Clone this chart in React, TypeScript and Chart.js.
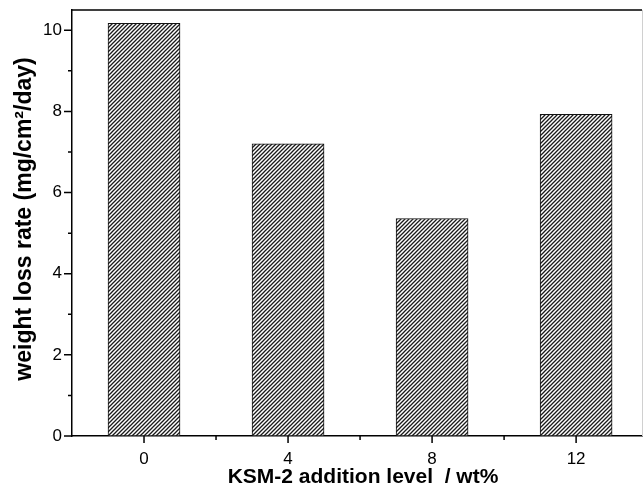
import React, { useEffect, useRef } from "react";
import { Chart, registerables } from "chart.js";

Chart.register(...registerables);

// ---- data ----
const categories = [0, 4, 8, 12];
const weightLossRate = [10.17, 7.2, 5.36, 7.93];
const yMajorTicks = [0, 2, 4, 6, 8, 10];
const yMinorTicks = [1, 3, 5, 7, 9];
const xMajorTicks = [0, 4, 8, 12];
const xMinorTicks = [2, 6, 10];
const xTitle = "KSM-2 addition level  / wt%";
const yTitle = "weight loss rate (mg/cm\u00B2/day)";

const FONT = '"Liberation Sans", Arial, Helvetica, sans-serif';

function makeHatch(): CanvasPattern | string {
  const c = document.createElement("canvas");
  c.width = 4;
  c.height = 4;
  const g = c.getContext("2d");
  if (!g) return "#888";
  g.fillStyle = "#ffffff";
  g.fillRect(0, 0, 4, 4);
  g.strokeStyle = "#1a1a1a";
  g.lineWidth = 1.3;
  g.beginPath();
  g.moveTo(-1, 5);
  g.lineTo(5, -1);
  g.moveTo(-1, 1);
  g.lineTo(1, -1);
  g.moveTo(3, 5);
  g.lineTo(5, 3);
  g.stroke();
  return g.createPattern(c, "repeat") || "#888";
}

const framePlugin = {
  id: "framePlugin",
  afterDraw(chart: any) {
    const { ctx, chartArea: a, scales } = chart;
    const xs = scales.x;
    const ys = scales.y;
    ctx.save();
    ctx.strokeStyle = "#000";
    ctx.lineWidth = 1.5;
    ctx.beginPath();
    // top frame
    ctx.moveTo(a.left, a.top);
    ctx.lineTo(a.right, a.top);
    // y ticks
    yMajorTicks.forEach((v) => {
      const p = ys.getPixelForValue(v);
      ctx.moveTo(a.left - 8, p);
      ctx.lineTo(a.left, p);
    });
    yMinorTicks.forEach((v) => {
      const p = ys.getPixelForValue(v);
      ctx.moveTo(a.left - 4, p);
      ctx.lineTo(a.left, p);
    });
    // x ticks
    xMajorTicks.forEach((v) => {
      const p = xs.getPixelForValue(v);
      ctx.moveTo(p, a.bottom);
      ctx.lineTo(p, a.bottom + 7);
    });
    xMinorTicks.forEach((v) => {
      const p = xs.getPixelForValue(v);
      ctx.moveTo(p, a.bottom);
      ctx.lineTo(p, a.bottom + 4);
    });
    ctx.stroke();
    // faint right edge
    ctx.strokeStyle = "#d0d0d0";
    ctx.lineWidth = 1;
    ctx.beginPath();
    ctx.moveTo(a.right + 0.5, a.top);
    ctx.lineTo(a.right + 0.5, a.bottom);
    ctx.stroke();

    // titles
    ctx.fillStyle = "#000";
    ctx.font = `bold 21px ${FONT}`;
    ctx.textAlign = "center";
    ctx.textBaseline = "alphabetic";
    ctx.fillText(xTitle, (a.left + a.right) / 2 + 6, a.bottom + 47);

    ctx.font = `bold 23px ${FONT}`;
    ctx.translate(31, (a.top + a.bottom) / 2 - 4);
    ctx.rotate(-Math.PI / 2);
    ctx.fillText(yTitle, 0, 0);
    ctx.restore();
  },
};

export default function App() {
  const ref = useRef<HTMLCanvasElement | null>(null);

  useEffect(() => {
    document.body.style.margin = "0";
    const canvas = ref.current;
    if (!canvas) return;
    const hatch = makeHatch();
    const chart = new Chart(canvas, {
      type: "bar",
      data: {
        datasets: [
          {
            data: categories.map((c, i) => ({ x: c, y: weightLossRate[i] })),
            backgroundColor: hatch as any,
            borderColor: "#111",
            borderWidth: 1,
            borderSkipped: false,
            barThickness: 72,
          },
        ],
      },
      options: {
        animation: false,
        responsive: false,
        maintainAspectRatio: false,
        layout: { padding: { top: 10, right: 1, left: 0, bottom: 0 } },
        plugins: {
          legend: { display: false },
          tooltip: { enabled: false },
        },
        scales: {
          x: {
            type: "linear",
            offset: false,
            min: -2,
            max: 13.83,
            grid: { display: false, drawTicks: false, offset: false },
            border: { display: true, color: "#000", width: 1.5 },
            afterBuildTicks: (s: any) => {
              s.ticks = xMajorTicks.map((v) => ({ value: v }));
            },
            afterFit: (s: any) => {
              s.height = 56;
              s.paddingLeft = 0;
              s.paddingRight = 0;
            },
            ticks: {
              color: "#000",
              padding: 13,
              maxRotation: 0,
              autoSkip: false,
              font: { family: FONT, size: 17 },
            },
          },
          y: {
            min: 0,
            max: 10.5,
            grid: { display: false, drawTicks: false },
            border: { display: true, color: "#000", width: 1.5 },
            afterBuildTicks: (s: any) => {
              s.ticks = yMajorTicks.map((v) => ({ value: v }));
            },
            afterFit: (s: any) => {
              s.width = 72;
              s.paddingTop = 0;
              s.paddingBottom = 0;
            },
            ticks: {
              color: "#000",
              padding: 10,
              font: { family: FONT, size: 17 },
            },
          },
        },
      },
      plugins: [framePlugin],
    });
    return () => chart.destroy();
  }, []);

  return (
    <div style={{ width: 643, height: 492 }}>
      <canvas ref={ref} width={643} height={492} style={{ display: "block" }} />
    </div>
  );
}
